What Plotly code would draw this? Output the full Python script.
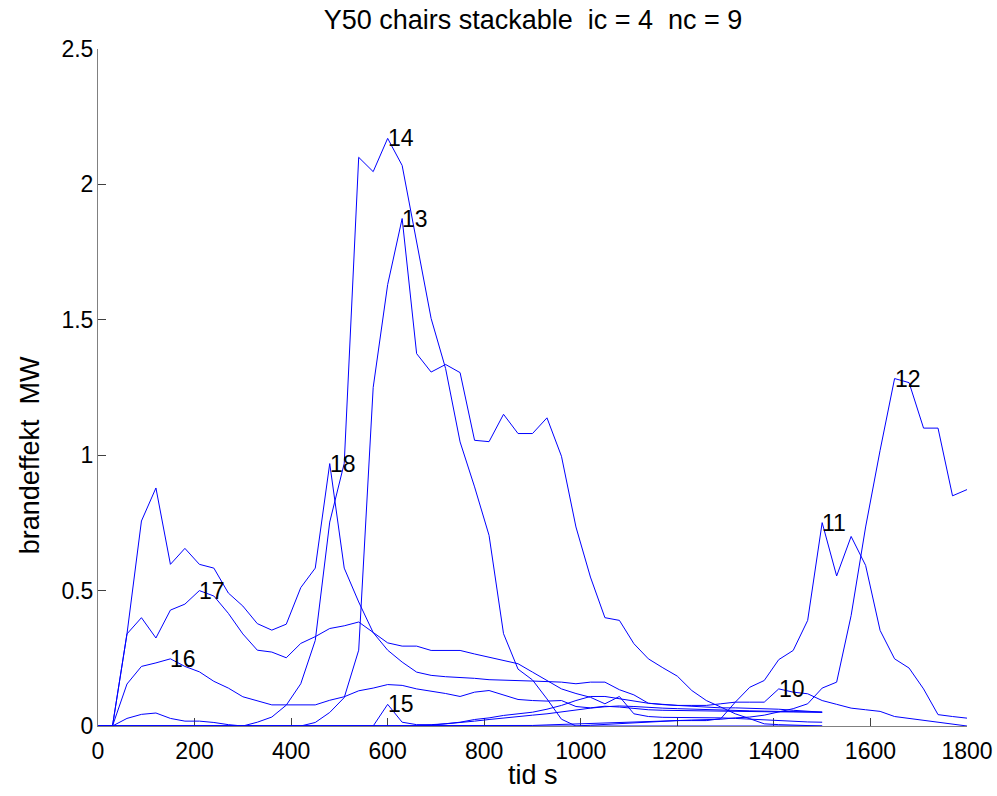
import plotly.graph_objects as go

# time grids (s)
t_short = list(range(0, 1501, 30))   # curves 13-18
t_long = list(range(0, 1801, 30))    # curves 10-12

# brandeffekt (MW) per curve
c10 = [0, 0, 0.028, 0.043, 0.048, 0.028, 0.018, 0.018, 0.013, 0.005,
       0, 0, 0, 0, 0, 0, 0, 0, 0, 0,
       0, 0, 0, 0.003, 0.008, 0.014, 0.024, 0.03, 0.039, 0.045,
       0.051, 0.062, 0.076, 0.094, 0.109, 0.109, 0.1, 0.092, 0.084, 0.08,
       0.076, 0.076, 0.076, 0.082, 0.088, 0.088, 0.088, 0.137, 0.125, 0.119,
       0.094, 0.08, 0.066, 0.06, 0.054, 0.035, 0.028, 0.02, 0.013, 0.007,
       0]
c11 = [0] * 30 + [
       0.002, 0.004, 0.006, 0.008, 0.01, 0.012, 0.014, 0.016, 0.018, 0.02,
       0.02, 0.02, 0.02, 0.027, 0.088, 0.143, 0.168, 0.245, 0.279, 0.39,
       0.751, 0.554, 0.70, 0.593, 0.353, 0.248, 0.214, 0.137, 0.042, 0.035,
       0.029]
c12 = [0] * 34 + [
       0.003, 0.006, 0.01, 0.013, 0.016, 0.018, 0.02, 0.022, 0.024, 0.025,
       0.03, 0.033, 0.04, 0.051, 0.064, 0.082, 0.14, 0.162, 0.408, 0.735,
       1.018, 1.283, 1.268, 1.10, 1.10, 0.85, 0.873]
c13 = [0] * 14 + [
       0, 0.013, 0.05, 0.105, 0.28, 1.25, 1.63, 1.874, 1.375, 1.307,
       1.335, 1.305, 1.055, 1.05, 1.151, 1.08, 1.08, 1.138, 0.996, 0.735,
       0.55, 0.40, 0.39, 0.304, 0.248, 0.215, 0.184, 0.131, 0.094, 0.07,
       0.045, 0.027, 0.008, 0.005, 0.003, 0.002, 0]
c14 = [0] * 11 + [
       0.014, 0.033, 0.077, 0.156, 0.316, 0.753, 0.97, 2.10, 2.047, 2.17,
       2.07, 1.78, 1.505, 1.32, 1.049, 0.883, 0.704, 0.341, 0.21, 0.17,
       0.10, 0.025, 0] + [0] * 17
c15 = [0] * 19 + [
       0, 0.08, 0.014, 0.005, 0.005, 0.008, 0.012, 0.018, 0.024, 0.03,
       0.036, 0.04, 0.045, 0.052, 0.06, 0.066, 0.071, 0.074, 0.072, 0.068,
       0.066, 0.064, 0.062, 0.06, 0.058, 0.057, 0.056, 0.055, 0.054, 0.053,
       0.052, 0.051]
c16 = [0, 0, 0.155, 0.22, 0.233, 0.248, 0.22, 0.20, 0.165, 0.14,
       0.108, 0.093, 0.078, 0.078, 0.078, 0.078, 0.095, 0.108, 0.13, 0.14,
       0.153, 0.15, 0.137, 0.129, 0.12, 0.109, 0.125, 0.131, 0.115, 0.098,
       0.094, 0.092, 0.094, 0.072, 0.067, 0.073, 0.07, 0.065, 0.06, 0.058,
       0.057, 0.056, 0.055, 0.055, 0.054, 0.053, 0.053, 0.052, 0.052, 0.051,
       0.051]
c17 = [0, 0, 0.34, 0.40, 0.325, 0.428, 0.45, 0.50, 0.48, 0.416,
       0.34, 0.28, 0.273, 0.252, 0.305, 0.33, 0.36, 0.37, 0.384, 0.345,
       0.307, 0.295, 0.295, 0.279, 0.279, 0.279, 0.266, 0.254, 0.242, 0.23,
       0.199, 0.168, 0.137, 0.12, 0.106, 0.082, 0.109, 0.045, 0.035, 0.032,
       0.032, 0.03, 0.03, 0.03, 0.028, 0.025, 0.022, 0.02, 0.017, 0.015,
       0.014]
c18 = [0, 0, 0.34, 0.757, 0.879, 0.597, 0.656, 0.597, 0.583, 0.491,
       0.443, 0.378, 0.354, 0.376, 0.511, 0.583, 0.969, 0.583, 0.458, 0.345,
       0.28, 0.236, 0.199, 0.187, 0.182, 0.18, 0.176, 0.171, 0.17, 0.168,
       0.166, 0.164, 0.162, 0.156, 0.162, 0.162, 0.134, 0.115, 0.084, 0.079,
       0.076, 0.072, 0.069, 0.067, 0.067, 0.066, 0.065, 0.062, 0.058, 0.054,
       0.051]

curve_ids = [10, 11, 12, 13, 14, 15, 16, 17, 18]
curve_vals = [c10, c11, c12, c13, c14, c15, c16, c17, c18]
curve_times = [t_long, t_long, t_long, t_short, t_short, t_short, t_short, t_short, t_short]

x_ticks = list(range(0, 1801, 200))
y_ticks = [0, 0.5, 1, 1.5, 2, 2.5]
y_ticktext = ["0", "0.5", "1", "1.5", "2", "2.5"]

FONT = "Liberation Sans, Arial, sans-serif"
W, H = 997, 796

fig = go.Figure()
annotations = []
for cid, ts, vs in zip(curve_ids, curve_times, curve_vals):
    fig.add_trace(go.Scatter(x=ts, y=vs, mode="lines",
                             line=dict(color="#0000ff", width=1),
                             showlegend=False, hoverinfo="skip"))
    k = max(range(len(vs)), key=lambda i: vs[i])
    annotations.append(dict(x=ts[k], y=vs[k], text=str(cid), showarrow=False,
                            xanchor="left", yanchor="middle", xshift=-2,
                            font=dict(family=FONT, size=23, color="black")))

# axis titles as annotations for exact placement
annotations.append(dict(text="tid s", xref="paper", yref="paper", x=0.5, y=0,
                        xanchor="center", yanchor="middle", yshift=-49, showarrow=False,
                        font=dict(family=FONT, size=27, color="black")))
annotations.append(dict(text="brandeffekt  MW", xref="paper", yref="paper", x=0, y=0.4,
                        xanchor="center", yanchor="middle", xshift=-68, textangle=-90,
                        showarrow=False,
                        font=dict(family=FONT, size=27, color="black")))

axis_common = dict(showgrid=False, zeroline=False, showline=True,
                   linecolor="#808080", linewidth=1, ticks="inside",
                   ticklen=8, tickcolor="#404040", tickwidth=1,
                   tickfont=dict(family=FONT, size=23, color="black"),
                   mirror=False, automargin=False, layer="below traces",
                   ticklabeloverflow="allow")

fig.update_layout(
    width=W, height=H,
    paper_bgcolor="white", plot_bgcolor="white",
    margin=dict(l=98, r=30, t=49, b=70, autoexpand=False),
    title=dict(text="Y50 chairs stackable  ic = 4  nc = 9", xref="container",
               x=533 / W, xanchor="center",
               yref="container", y=1 - 20 / H, yanchor="middle",
               font=dict(family=FONT, size=27, color="black")),
    xaxis=dict(range=[0, 1800], tickvals=x_ticks, ticklabelstandoff=4, **axis_common),
    yaxis=dict(range=[0, 2.5], tickvals=y_ticks, ticktext=y_ticktext,
               ticklabelstandoff=-1, **axis_common),
    annotations=annotations,
)

fig.write_html("out.html", config={"displayModeBar": False},
               post_script="document.body.style.margin='0px';document.body.style.overflow='hidden';")
